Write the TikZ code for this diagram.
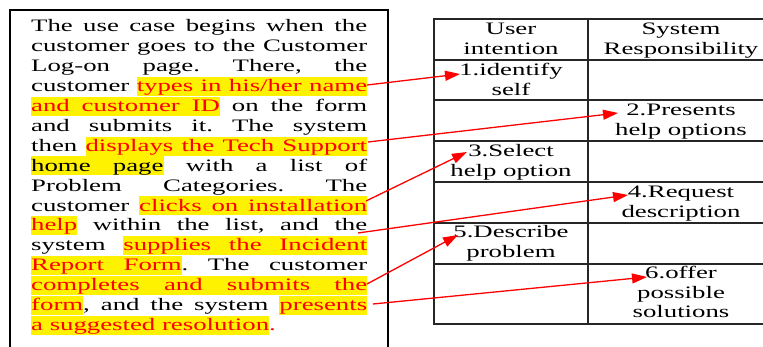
\documentclass[tikz,border=0pt]{standalone}
\usepackage{fontspec}
\setmainfont{Liberation Serif}
\usetikzlibrary{arrows.meta}
\frenchspacing
\newcommand\xs{1.53}
\newlength\lw \setlength\lw{219.6pt}
\newcommand\jl[1]{\scalebox{\xs}[1]{\makebox[\lw][s]{#1}}}
\newcommand\nl[1]{\scalebox{\xs}[1]{#1}}
\newcommand\yr[1]{{\setlength\fboxsep{0pt}\colorbox{yellow}{\rule[-4.2pt]{0pt}{19pt}\textcolor{red}{#1}}}}
\newcommand\yk[1]{{\setlength\fboxsep{0pt}\colorbox{yellow}{\rule[-4.2pt]{0pt}{19pt}#1}}}
\newcommand\ys{{\color{yellow}\leaders\vrule height 14.8pt depth 4.2pt\hskip\fontdimen2\font plus\fontdimen3\font minus\fontdimen4\font}}
\begin{document}
\begin{tikzpicture}[x=1pt,y=-1pt,
  txt/.style={inner sep=0pt, font=\fontsize{17.5}{20}\selectfont},
  ln/.style={txt, anchor=base west},
  cell/.style={txt, anchor=base},
  grid/.style={draw=black!85, line width=1.2pt},
  frame/.style={draw=black, line width=2.2pt},
  arr/.style={draw=red, line width=1.3pt, -{Triangle[length=15pt,width=10pt]}}]
\useasboundingbox (0,0) rectangle (763,347);
\fill[white] (0,0) rectangle (763,347);
\clip (0,0) rectangle (763,347);
% left text box
\draw[frame] (10,10) rectangle (388,370);
\node[ln] (l1)  at (31,32)    {\jl{The use case begins when the}};
\node[ln] (l2)  at (31,51.9)  {\jl{customer goes to the Customer}};
\node[ln] (l3)  at (31,71.8)  {\jl{Log-on page. There, the}};
\node[ln] (l4)  at (31,91.7)  {\jl{customer \yr{types}\ys\yr{in}\ys\yr{his/her}\ys\yr{name}}};
\node[ln] (l5)  at (31,111.6) {\jl{\yr{and}\ys\yr{customer}\ys\yr{ID} on the form}};
\node[ln] (l6)  at (31,131.5) {\jl{and submits it. The system}};
\node[ln] (l7)  at (31,151.4) {\jl{then \yr{displays}\ys\yr{the}\ys\yr{Tech}\ys\yr{Support}}};
\node[ln] (l8)  at (31,171.3) {\jl{\yk{home}\ys\yk{page} with a list of}};
\node[ln] (l9)  at (31,191.2) {\jl{Problem Categories. The}};
\node[ln] (l10) at (31,211.1) {\jl{customer \yr{clicks}\ys\yr{on}\ys\yr{installation}}};
\node[ln] (l11) at (31,231)   {\jl{\yr{help} within the list, and the}};
\node[ln] (l12) at (31,250.9) {\jl{system \yr{supplies}\ys\yr{the}\ys\yr{Incident}}};
\node[ln] (l13) at (31,270.8) {\jl{\yr{Report}\ys\yr{Form}. The customer}};
\node[ln] (l14) at (31,290.7) {\jl{\yr{completes}\ys\yr{and}\ys\yr{submits}\ys\yr{the}}};
\node[ln] (l15) at (31,310.6) {\jl{\yr{form}, and the system \yr{presents}}};
\node[ln] (l16) at (31,330.5) {\nl{\yr{a}\ys\yr{suggested}\ys\yr{resolution}\textcolor{red}{.}}};
% table
\draw[grid] (434,19) rectangle (790,324);
\draw[grid] (588,19) -- (588,324);
\foreach \yy in {60,100,141,182,223,264} \draw[grid] (434,\yy) -- (790,\yy);
\node[cell] (h1a) at (511,35)  {\nl{User}};
\node[cell] (h1b) at (511,55)  {\nl{intention}};
\node[cell] (h2a) at (681,35)  {\nl{System}};
\node[cell] (h2b) at (681,55)  {\nl{Responsibility}};
\node[cell] (c1a) at (511,76)  {\nl{1.identify}};
\node[cell] (c1b) at (511,96)  {\nl{self}};
\node[cell] (c2a) at (681,116) {\nl{2.Presents}};
\node[cell] (c2b) at (681,136) {\nl{help options}};
\node[cell] (c3a) at (511,157) {\nl{3.Select}};
\node[cell] (c3b) at (511,177) {\nl{help option}};
\node[cell] (c4a) at (681,198) {\nl{4.Request}};
\node[cell] (c4b) at (681,218) {\nl{description}};
\node[cell] (c5a) at (511,238) {\nl{5.Describe}};
\node[cell] (c5b) at (511,258) {\nl{problem}};
\node[cell] (c6a) at (681,279) {\nl{6.offer}};
\node[cell] (c6b) at (681,299) {\nl{possible}};
\node[cell] (c6c) at (681,318) {\nl{solutions}};
% arrows
\coordinate (s1) at (367,85);   \coordinate (e1) at (460,74);
\coordinate (s2) at (368,142);  \coordinate (e2) at (618,113);
\coordinate (s3) at (366,201);  \coordinate (e3) at (467,152);
\coordinate (s4) at (358,233);  \coordinate (e4) at (628,195);
\coordinate (s5) at (367,284);  \coordinate (e5) at (458,235);
\coordinate (s6) at (373,304);  \coordinate (e6) at (647,277);
\draw[arr] (s1) -- (e1);
\draw[arr] (s2) -- (e2);
\draw[arr] (s3) -- (e3);
\draw[arr] (s4) -- (e4);
\draw[arr] (s5) -- (e5);
\draw[arr] (s6) -- (e6);
\end{tikzpicture}
\end{document}
